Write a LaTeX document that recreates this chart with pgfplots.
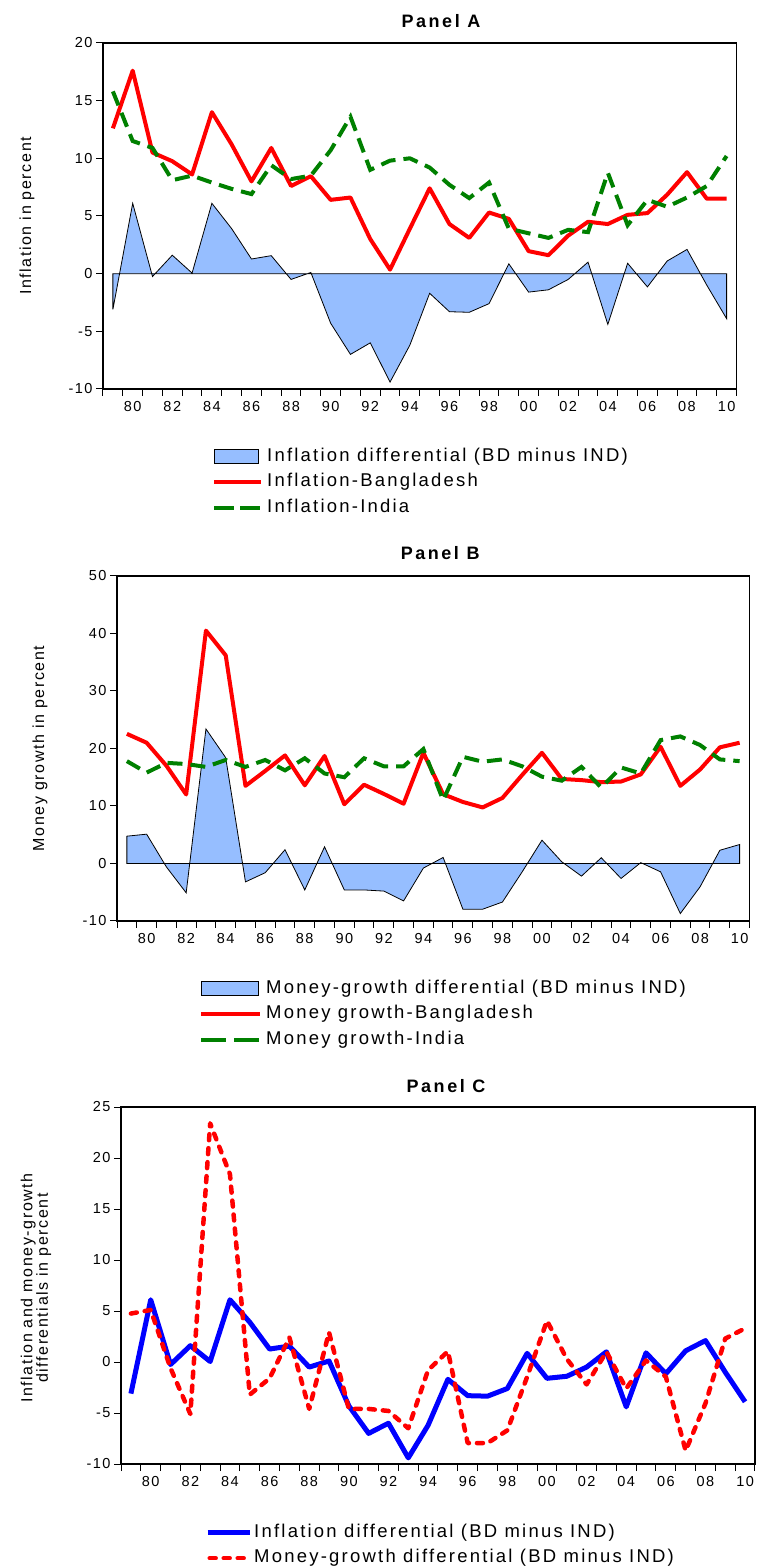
\documentclass[border=0pt]{standalone}
\usepackage{fontspec}
\setmainfont[LetterSpace=10]{Liberation Sans}
\newfontfamily\legfont[LetterSpace=12]{Liberation Sans}
\newfontfamily\titlefont[LetterSpace=14]{Liberation Sans}
\usepackage{pgfplots}
\usepackage{pgfplotstable}
\pgfplotsset{compat=1.18}
\definecolor{areablue}{RGB}{150,190,255}
\definecolor{dgreen}{RGB}{0,128,0}

\pgfplotstableread{
year bdinf indinf infdiff bdm indm mdiff
1979 12.6 15.8 -3.1 22.55 17.8 4.75
1980 17.6 11.5 6.1 21.0 15.8 5.1
1981 10.5 10.9 -0.25 17.0 17.5 -0.6
1982 9.75 8.1 1.6 12.0 17.3 -5.1
1983 8.6 8.5 0.05 40.5 16.8 23.4
1984 14.0 7.9 6.1 36.2 18.0 18.4
1985 11.2 7.35 3.9 13.5 16.8 -3.2
1986 8.0 6.9 1.27 16.1 18.0 -1.6
1987 10.9 9.4 1.56 18.8 16.2 2.4
1988 7.6 8.2 -0.5 13.6 18.3 -4.6
1989 8.45 8.5 0.1 18.7 15.65 2.9
1990 6.4 10.7 -4.3 10.3 15.0 -4.6
1991 6.6 13.6 -7.0 13.7 18.3 -4.6
1992 3.0 9.0 -6.0 12.1 16.9 -4.8
1993 0.35 9.8 -9.4 10.4 16.9 -6.5
1994 3.9 10.0 -6.2 19.25 19.9 -0.8
1995 7.4 9.2 -1.7 12.05 11.0 1.05
1996 4.3 7.7 -3.3 10.7 18.55 -7.95
1997 3.1 6.55 -3.35 9.75 17.7 -7.95
1998 5.3 7.9 -2.6 11.4 18.1 -6.7
1999 4.75 3.9 0.85 15.4 16.9 -1.45
2000 1.95 3.5 -1.6 19.25 15.1 4.05
2001 1.6 3.1 -1.4 14.7 14.4 0.3
2002 3.3 3.8 -0.5 14.5 16.8 -2.2
2003 4.5 3.6 1.0 14.15 13.2 1.0
2004 4.3 8.75 -4.4 14.25 16.7 -2.6
2005 5.1 4.2 0.9 15.5 15.65 0.15
2006 5.25 6.4 -1.15 20.3 21.45 -1.45
2007 6.85 5.8 1.1 13.5 22.1 -8.7
2008 8.8 6.6 2.1 16.35 20.6 -4.05
2009 6.5 7.6 -1.0 20.2 18.1 2.3
2010 6.5 10.2 -3.9 21.0 17.8 3.3
}\data

\pgfplotsset{
  eviews/.style={
    scale only axis,
    anchor=south west,
    xmin=1978.5, xmax=2010.5,
    xtick={1980,1982,...,2010},
    xticklabels={80,82,84,86,88,90,92,94,96,98,00,02,04,06,08,10},
    minor xtick={1978.5,1979.5,...,2010.5},
    tick align=outside,
    tick pos=left,
    major tick length=7pt,
    minor tick length=7pt,
    tick style={black, line width=1pt},
    major x tick style={draw=none},
    axis line style={line width=1.2pt},
    /pgf/number format/assume math mode=true,
    tick label style={font=\fontsize{14.5}{16}\selectfont},
    xticklabel style={yshift=-2pt},
    title style={font=\titlefont\bfseries\fontsize{18}{20}\selectfont, anchor=base, inner sep=0pt},
    ylabel style={font=\fontsize{16}{15.5}\selectfont, anchor=center},
    legend style={draw=none, fill=none, anchor=north west, inner sep=0pt,
      font=\legfont\fontsize{18.5}{21}\selectfont,
      nodes={inner sep=0pt, text height=13pt, text depth=4pt},
      row sep=8.5pt, column sep=4pt},
    legend cell align=left,
  },
  arealeg/.style={legend image code/.code={\draw[fill=areablue,draw=black,line width=0.8pt] (0pt,-7pt) rectangle (#1,7pt);}},
}

\begin{document}
\begin{tikzpicture}
\useasboundingbox (0,0) rectangle (756pt,1566pt);

% ---------------- Panel A
\begin{axis}[eviews, at={(103pt,1177pt)}, width=633.5pt, height=346pt,
  ymin=-10, ymax=20, ytick={-10,-5,...,20},
  title={Panel A}, title style={at={(axis description cs:0.5335,1)}, yshift=9pt},
  ylabel={Inflation in percent}, ylabel style={at={(axis description cs:-0.12,0.5)}},
  legend style={at={(axis description cs:0.172,-0.1705)}}]
\addplot[fill=areablue, draw=black, line width=0.8pt, arealeg=44pt] table[x=year,y=infdiff]{\data} \closedcycle;
\addlegendentry{Inflation differential (BD minus IND)}
\addplot[red, line width=4pt, line join=round,
  legend image code/.code={\draw[red,line width=4pt] (0pt,0pt) -- (47pt,0pt);}] table[x=year,y=bdinf]{\data};
\addlegendentry{Inflation-Bangladesh}
\addplot[dgreen, line width=4pt, dash pattern=on 15pt off 8pt,
  legend image code/.code={\draw[dgreen,line width=4pt,dash pattern=on 20pt off 6pt] (0pt,0pt) -- (46pt,0pt);}] table[x=year,y=indinf]{\data};
\addlegendentry{Inflation-India}
\end{axis}

% ---------------- Panel B
\begin{axis}[eviews, at={(117pt,645pt)}, width=632.5pt, height=345pt,
  ymin=-10, ymax=50, ytick={-10,0,...,50},
  title={Panel B}, title style={at={(axis description cs:0.511,1)}, yshift=10pt},
  ylabel={Money growth in percent}, ylabel style={at={(axis description cs:-0.1217,0.5)}},
  legend style={at={(axis description cs:0.1296,-0.171)}}]
\addplot[fill=areablue, draw=black, line width=0.8pt, arealeg=57pt] table[x=year,y=mdiff]{\data} \closedcycle;
\addlegendentry{Money-growth differential (BD minus IND)}
\addplot[red, line width=4pt, line join=round,
  legend image code/.code={\draw[red,line width=4pt] (0pt,0pt) -- (59pt,0pt);}] table[x=year,y=bdm]{\data};
\addlegendentry{Money growth-Bangladesh}
\addplot[dgreen, line width=4pt, dash pattern=on 15pt off 8pt,
  legend image code/.code={\draw[dgreen,line width=4pt,dash pattern=on 25pt off 8pt] (0pt,0pt) -- (58pt,0pt);}] table[x=year,y=indm]{\data};
\addlegendentry{Money growth-India}
\end{axis}

% ---------------- Panel C
\begin{axis}[eviews, at={(121pt,102pt)}, width=634pt, height=357pt,
  ymin=-10, ymax=25, ytick={-10,-5,...,25},
  title={Panel C}, title style={at={(axis description cs:0.5126,1)}, yshift=9pt},
  ylabel={Inflation and money-growth\\differentials in percent},
  ylabel style={at={(axis description cs:-0.134,0.493)}, align=center},
  legend style={at={(axis description cs:0.1325,-0.168)}, column sep=2pt}]
\addplot[blue, line width=5pt, line join=round,
  legend image code/.code={\draw[blue,line width=5pt] (0pt,0pt) -- (42pt,0pt);}] table[x=year,y=infdiff]{\data};
\addlegendentry{Inflation differential (BD minus IND)}
\addplot[red, line width=4.5pt, line cap=round, line join=round, dash pattern=on 6pt off 8pt,
  legend image code/.code={\draw[red,line width=4.5pt,line cap=round,dash pattern=on 6pt off 8pt] (2pt,0pt) -- (42pt,0pt);}] table[x=year,y=mdiff]{\data};
\addlegendentry{Money-growth differential (BD minus IND)}
\end{axis}
\end{tikzpicture}
\end{document}
